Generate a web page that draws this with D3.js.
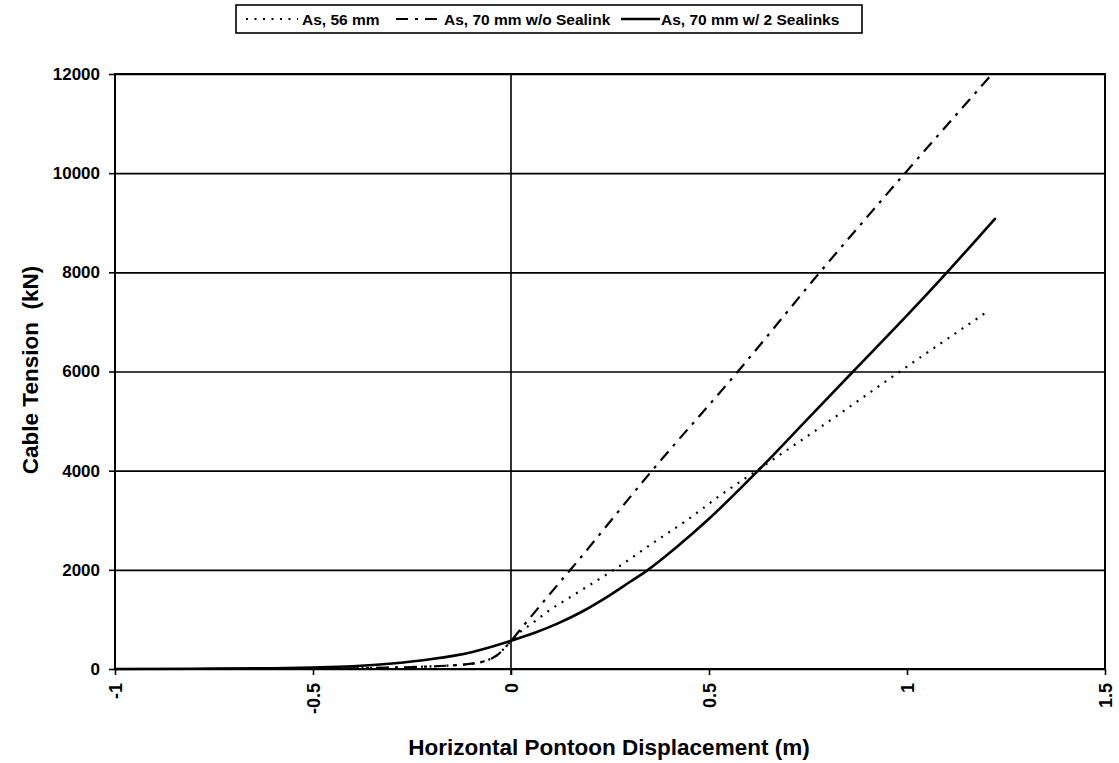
<!DOCTYPE html>
<html>
<head>
<meta charset="utf-8">
<script src="https://cdn.jsdelivr.net/npm/d3@7"></script>
<style>
  html, body { margin: 0; padding: 0; background: #fff; }
  svg { display: block; font-family: "Liberation Sans", Arial, Helvetica, sans-serif; }
</style>
</head>
<body>
<svg id="chart" width="1119" height="763"></svg>
<script>
// Horizontal pontoon displacement (m) vs. cable tension (kN)
const seriesNames = ["As, 56 mm", "As, 70 mm w/o Sealink", "As, 70 mm w/ 2 Sealinks"];

const disp56 = [-1, -0.6, -0.45, -0.35, -0.25, -0.18, -0.12, -0.07, -0.035, 0, 0.025, 0.05, 0.1, 0.15, 0.2, 0.26, 0.36, 0.444, 0.528, 0.611, 0.8, 0.982, 1.207];
const tension56 = [0, 0, 8, 20, 40, 60, 90, 150, 280, 565, 760, 900, 1200, 1450, 1700, 2000, 2550, 3000, 3500, 3950, 4980, 6000, 7230];

const disp70 = [-1, -0.6, -0.45, -0.35, -0.25, -0.18, -0.12, -0.07, -0.035, 0, 0.02, 0.05, 0.1, 0.15, 0.356, 0.573, 0.78, 0.995, 1.215];
const tension70 = [0, 0, 8, 20, 40, 60, 90, 150, 280, 565, 760, 1050, 1530, 2000, 4000, 6000, 8000, 10000, 12000];

const disp70s = [-1, -0.8, -0.6, -0.5, -0.4, -0.3, -0.2, -0.1, 0, 0.06, 0.12, 0.18, 0.24, 0.3, 0.346, 0.42, 0.5, 0.624, 0.75, 0.864, 1.0, 1.101, 1.222];
const tension70s = [0, 5, 15, 30, 55, 110, 200, 340, 570, 730, 925, 1160, 1440, 1755, 2000, 2470, 3030, 4000, 5050, 6000, 7130, 8000, 9080];

const xTicks = [-1, -0.5, 0, 0.5, 1, 1.5];
const xTickLabels = ["-1", "-0.5", "0", "0.5", "1", "1.5"];
const yTicks = [0, 2000, 4000, 6000, 8000, 10000, 12000];
const yTickLabels = ["0", "2000", "4000", "6000", "8000", "10000", "12000"];

const xTitle = "Horizontal Pontoon Displacement (m)";
const yTitle = "Cable Tension  (kN)";

// line styles per series
const styles = [
  { dash: "2,6.5", width: 2.2, cap: "butt" },
  { dash: "12,7,3,7", width: 2.2, cap: "butt" },
  { dash: null, width: 2.6, cap: "round" }
];

const series = [
  { name: seriesNames[0], x: disp56, y: tension56, style: styles[0] },
  { name: seriesNames[1], x: disp70, y: tension70, style: styles[1] },
  { name: seriesNames[2], x: disp70s, y: tension70s, style: styles[2] }
];

const svg = d3.select("#chart");
const plot = { left: 115, right: 1105, top: 74, bottom: 669 };
const fontFamily = "Liberation Sans, Arial, sans-serif";

const x = d3.scaleLinear().domain([-1, 1.5]).range([plot.left, plot.right]);
const y = d3.scaleLinear().domain([0, 12000]).range([plot.bottom, plot.top]);

// horizontal gridlines
svg.append("g")
  .attr("transform", `translate(${plot.left},0)`)
  .call(d3.axisLeft(y).tickValues(yTicks).tickSize(-(plot.right - plot.left)).tickFormat(""))
  .call(g => g.select(".domain").remove())
  .call(g => g.selectAll("line").attr("stroke", "#000").attr("stroke-width", 1.6));

// vertical line at zero displacement
svg.append("line")
  .attr("x1", x(0)).attr("x2", x(0))
  .attr("y1", plot.top).attr("y2", plot.bottom + 6)
  .attr("stroke", "#000").attr("stroke-width", 1.6);

// y axis
const yAxis = svg.append("g")
  .attr("transform", `translate(${plot.left},0)`)
  .call(d3.axisLeft(y).tickValues(yTicks).tickSize(6).tickPadding(9)
    .tickFormat((d, i) => yTickLabels[i]));
yAxis.select(".domain").remove();
yAxis.selectAll("line").attr("stroke", "#000").attr("stroke-width", 1.6);
yAxis.selectAll("text")
  .attr("font-size", 17).attr("font-weight", "bold").attr("fill", "#000")
  .attr("font-family", fontFamily);

// x axis
const xAxis = svg.append("g")
  .attr("transform", `translate(0,${plot.bottom})`)
  .call(d3.axisBottom(x).tickValues(xTicks).tickSize(6)
    .tickFormat((d, i) => xTickLabels[i]));
xAxis.select(".domain").remove();
xAxis.selectAll("line").attr("stroke", "#000").attr("stroke-width", 1.6);
xAxis.selectAll("text")
  .attr("font-size", 18).attr("font-weight", "bold").attr("fill", "#000")
  .attr("font-family", fontFamily)
  .attr("text-anchor", "end")
  .attr("dy", null)
  .attr("y", 0)
  .attr("transform", "translate(6,14) rotate(-90)");

// plot frame
svg.append("rect")
  .attr("x", plot.left).attr("y", plot.top)
  .attr("width", plot.right - plot.left).attr("height", plot.bottom - plot.top)
  .attr("fill", "none").attr("stroke", "#000").attr("stroke-width", 2);

// series lines
const line = d3.line()
  .x(d => x(d[0]))
  .y(d => y(d[1]))
  .curve(d3.curveMonotoneX);

svg.append("g").selectAll("path")
  .data(series)
  .join("path")
  .attr("d", s => line(s.x.map((v, i) => [v, s.y[i]])))
  .attr("fill", "none")
  .attr("stroke", "#000")
  .attr("stroke-width", s => s.style.width)
  .attr("stroke-linecap", s => s.style.cap)
  .attr("stroke-dasharray", s => s.style.dash);

// axis titles
svg.append("text")
  .attr("x", 609).attr("y", 755)
  .attr("text-anchor", "middle")
  .attr("font-size", 22.5).attr("font-weight", "bold")
  .text(xTitle);

svg.append("text")
  .attr("transform", "translate(38,370) rotate(-90)")
  .attr("text-anchor", "middle")
  .attr("font-size", 22.5).attr("font-weight", "bold")
  .style("white-space", "pre")
  .text(yTitle);

// legend
const legend = { x: 236, y: 5, w: 626, h: 28 };
svg.append("rect")
  .attr("x", legend.x).attr("y", legend.y)
  .attr("width", legend.w).attr("height", legend.h)
  .attr("fill", "#fff").attr("stroke", "#000").attr("stroke-width", 1.6);

const legendItems = [
  { sx1: 246, sx2: 298, tx: 302 },
  { sx1: 396, sx2: 438, tx: 444 },
  { sx1: 621, sx2: 660, tx: 661 }
];
const ly = legend.y + legend.h / 2;
const lg = svg.append("g");
series.forEach((s, i) => {
  const it = legendItems[i];
  lg.append("line")
    .attr("x1", it.sx1).attr("x2", it.sx2)
    .attr("y1", ly).attr("y2", ly)
    .attr("stroke", "#000")
    .attr("stroke-width", s.style.width)
    .attr("stroke-dasharray", s.style.dash);
  lg.append("text")
    .attr("x", it.tx).attr("y", ly + 5.5)
    .attr("font-size", 15.5).attr("font-weight", "bold")
    .text(s.name);
});
</script>
</body>
</html>
